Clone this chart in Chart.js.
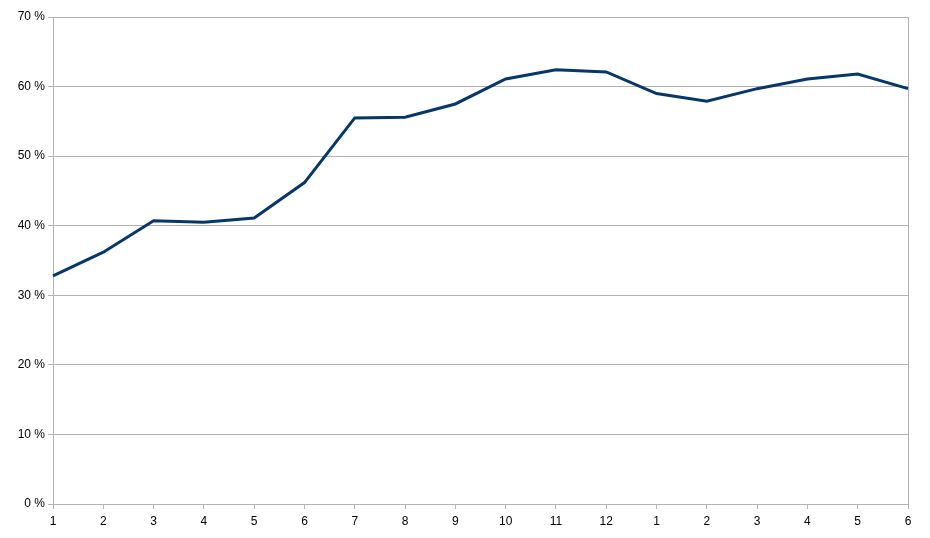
<!DOCTYPE html>
<html>
<head>
<meta charset="utf-8">
<script src="https://cdn.jsdelivr.net/npm/chart.js@4"></script>
<style>
  html, body { margin: 0; padding: 0; background: #fff; }
  #wrap { width: 930px; height: 538px; }
</style>
</head>
<body>
<div id="wrap"><canvas id="grafico"></canvas></div>
<script>
const meses = ['1', '2', '3', '4', '5', '6', '7', '8', '9', '10', '11', '12', '1', '2', '3', '4', '5', '6'];
const valores = [32.8, 36.2, 40.7, 40.5, 41.1, 46.2, 55.5, 55.6, 57.5, 61.1, 62.4, 62.1, 59.0, 57.9, 59.7, 61.1, 61.8, 59.7];
const yMin = 0;
const yMax = 70;
const yPasso = 10;

const cinza = '#b3b3b3';
const fonte = { family: '"Liberation Sans", Arial, sans-serif', size: 12 };

new Chart(document.getElementById('grafico'), {
  type: 'line',
  data: {
    labels: meses,
    datasets: [{
      data: valores,
      borderColor: '#06376b',
      borderWidth: 3,
      pointRadius: 0,
      tension: 0,
      fill: false
    }]
  },
  options: {
    responsive: true,
    maintainAspectRatio: false,
    animation: false,
    layout: {
      padding: { top: 17, right: 22, left: 0, bottom: 0 }
    },
    scales: {
      x: {
        offset: false,
        grid: {
          color: c => c.index === meses.length - 1 ? cinza : 'transparent',
          tickColor: cinza,
          tickLength: 5,
          drawOnChartArea: true
        },
        border: { color: cinza, width: 1 },
        ticks: {
          color: '#000',
          font: fonte,
          padding: 5,
          maxRotation: 0,
          autoSkip: false
        },
        afterFit: s => { s.height = 34; }
      },
      y: {
        min: yMin,
        max: yMax,
        grid: {
          color: cinza,
          tickColor: cinza,
          tickLength: 5
        },
        border: { color: cinza, width: 1 },
        ticks: {
          stepSize: yPasso,
          color: '#000',
          font: fonte,
          padding: 3,
          callback: v => v + ' %'
        },
        afterFit: s => { s.width = 53; }
      }
    },
    plugins: {
      legend: { display: false },
      tooltip: { enabled: false }
    }
  }
});
</script>
</body>
</html>
